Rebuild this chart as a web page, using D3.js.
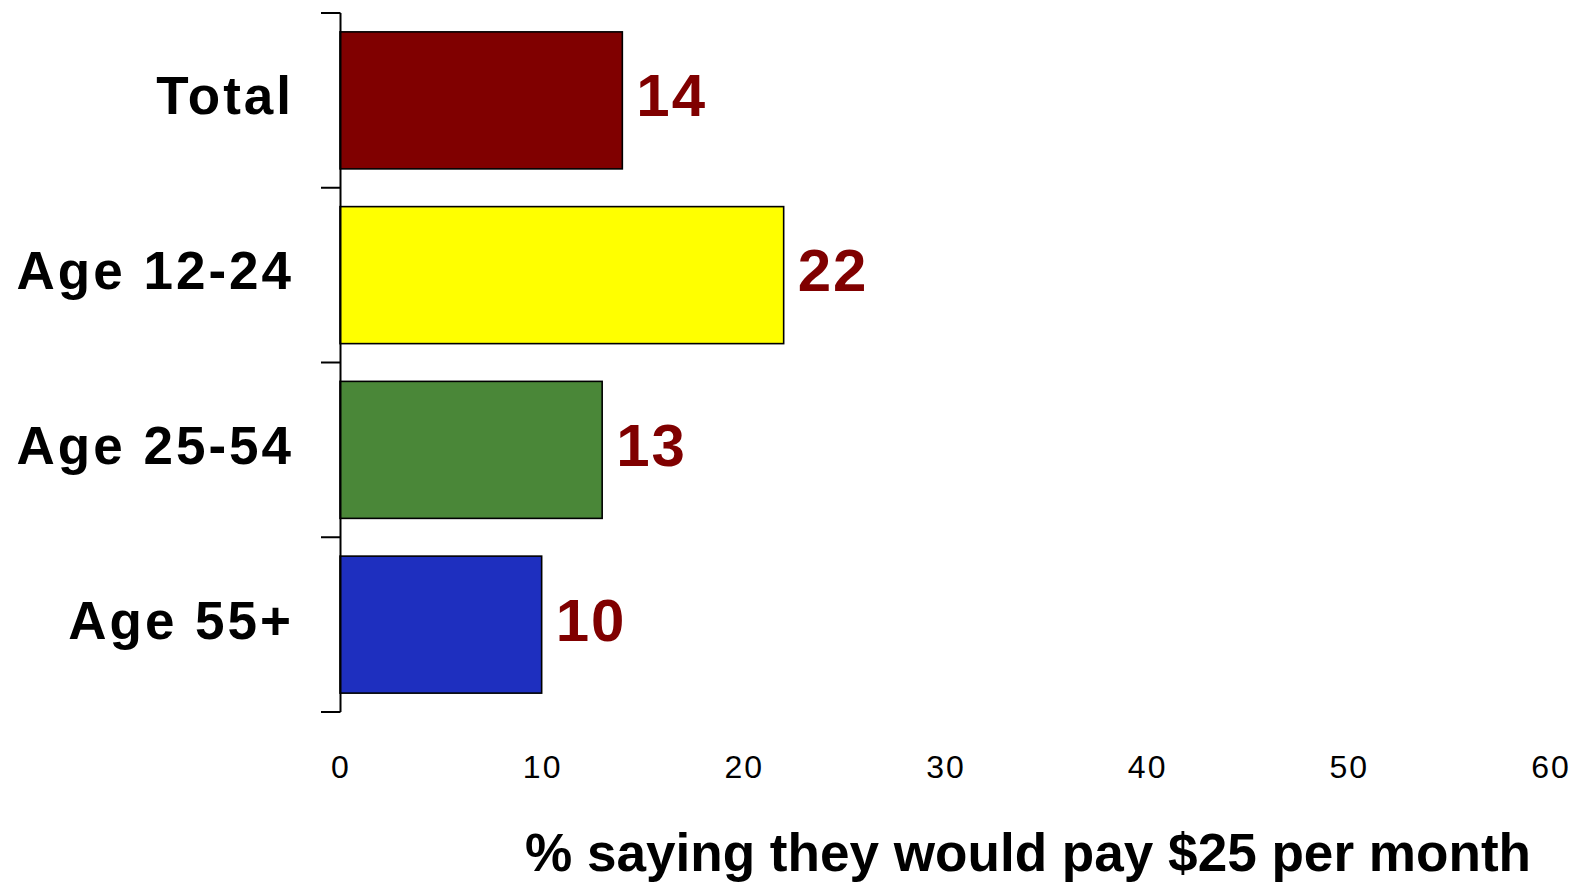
<!DOCTYPE html>
<html>
<head>
<meta charset="utf-8">
<script src="https://cdn.jsdelivr.net/npm/d3@7"></script>
<style>
  html, body { margin: 0; padding: 0; background: #ffffff; }
  svg { display: block; }
</style>
</head>
<body>
<script>
// Chart data
const categories = ["Total", "Age 12-24", "Age 25-54", "Age 55+"];
const values = [14, 22, 13, 10];
const barColors = ["#800000", "#FFFF00", "#4A8738", "#1E2FBF"];
const xTicks = [0, 10, 20, 30, 40, 50, 60];
const xTitle = "% saying they would pay $25 per month";

const width = 1583, height = 882;
const svg = d3.select("body").append("svg")
  .attr("width", width).attr("height", height);

const x = d3.scaleLinear().domain([0, 60]).range([340, 1550]);
const y = d3.scaleBand().domain(categories).range([13, 712])
  .paddingInner(0.216).paddingOuter(0.108);

const font = "'Liberation Sans', Arial, Helvetica, sans-serif";

// Bars
svg.append("g").selectAll("rect")
  .data(categories)
  .join("rect")
  .attr("x", x(0))
  .attr("y", d => y(d))
  .attr("width", (d, i) => x(values[i]) - x(0))
  .attr("height", y.bandwidth())
  .attr("fill", (d, i) => barColors[i])
  .attr("stroke", "#000")
  .attr("stroke-width", 1.6);

// Vertical axis line with ticks on band boundaries
const step = y.step();
const halfGap = y.paddingInner() * step / 2;
const boundaries = categories.map(d => y(d) - halfGap).concat([y(categories[categories.length - 1]) + y.bandwidth() + halfGap]);
const axisG = svg.append("g");
axisG.append("line")
  .attr("x1", x(0) + 0.5).attr("x2", x(0) + 0.5)
  .attr("y1", boundaries[0]).attr("y2", boundaries[boundaries.length - 1])
  .attr("stroke", "#000").attr("stroke-width", 2);
axisG.selectAll("line.tick")
  .data(boundaries)
  .join("line")
  .attr("class", "tick")
  .attr("x1", x(0) - 19).attr("x2", x(0) + 0.5)
  .attr("y1", d => d).attr("y2", d => d)
  .attr("stroke", "#000").attr("stroke-width", 2);

// Category labels
svg.append("g").selectAll("text")
  .data(categories)
  .join("text")
  .attr("x", 294)
  .attr("y", d => y(d) + y.bandwidth() / 2 + 14)
  .attr("text-anchor", "end")
  .attr("font-family", font)
  .attr("font-weight", "bold")
  .attr("font-size", 53)
  .attr("letter-spacing", 3)
  .attr("fill", "#000")
  .text(d => d);

// Value labels
svg.append("g").selectAll("text")
  .data(categories)
  .join("text")
  .attr("x", (d, i) => x(values[i]) + 14)
  .attr("y", d => y(d) + y.bandwidth() / 2 + 16)
  .attr("font-family", font)
  .attr("font-weight", "bold")
  .attr("font-size", 60)
  .attr("letter-spacing", 2)
  .attr("fill", "#800000")
  .text((d, i) => values[i]);

// X tick labels (no axis line)
svg.append("g").selectAll("text")
  .data(xTicks)
  .join("text")
  .attr("x", d => x(d) + 1)
  .attr("y", 778)
  .attr("text-anchor", "middle")
  .attr("font-family", font)
  .attr("font-size", 32)
  .attr("letter-spacing", 2)
  .attr("fill", "#000")
  .text(d => d);

// X axis title
svg.append("text")
  .attr("x", 1531)
  .attr("y", 871)
  .attr("text-anchor", "end")
  .attr("font-family", font)
  .attr("font-weight", "bold")
  .attr("font-size", 53.1)
  .attr("fill", "#000")
  .text(xTitle);
</script>
</body>
</html>
